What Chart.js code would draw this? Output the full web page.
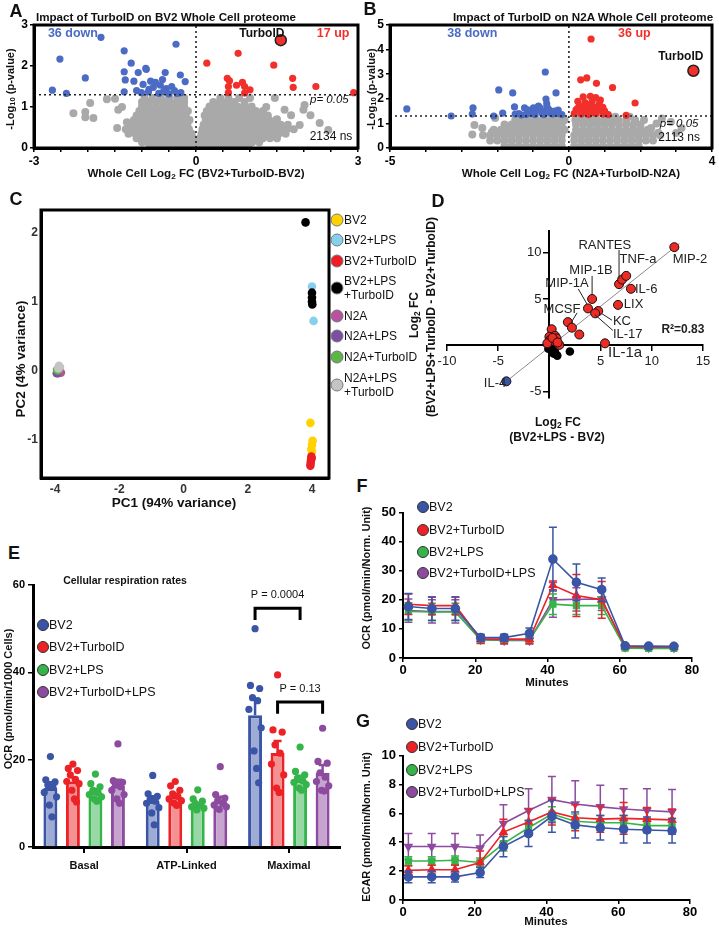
<!DOCTYPE html>
<html>
<head>
<meta charset="utf-8">
<script src="https://cdn.jsdelivr.net/npm/chart.js@4.4.1/dist/chart.umd.min.js"></script>
<style>
html,body{margin:0;padding:0;background:#fff;}
#root{position:relative;width:719px;height:928px;overflow:hidden;background:#fff;font-family:'Liberation Sans',Arial,Helvetica,sans-serif;color:#111;}
#root canvas{position:absolute;}
.tx{position:absolute;white-space:nowrap;transform:translate(-50%,-50%);line-height:1.15;z-index:5;}
.tl{position:absolute;white-space:nowrap;transform:translate(0,-50%);line-height:1.15;z-index:5;}
sub{font-size:0.7em;vertical-align:-0.2em;line-height:0;}
.dot{position:absolute;border-radius:50%;transform:translate(-50%,-50%);box-sizing:border-box;z-index:5;}
</style>
</head>
<body>
<div id="root"></div>
<script>
// ---------------- DATA ----------------
// Panel A volcano (BV2): [log2FC, -log10 p]
const volcA_down = [[-1.76,2.7],[-2.52,2.17],[-2.05,1.71],[-2.66,1.41],[-2.4,1.33],[-1.33,2.37],[-1.2,2.07],[-0.37,2.53],[-1.33,1.86],[-1.07,1.84],[-0.93,1.94],[-1.31,1.66],[-1.15,1.63],[-0.84,1.63],[-0.57,1.84],[-0.29,1.78],[-0.2,1.62],[-0.66,1.53],[-0.45,1.5],[-0.87,1.43],[-0.79,1.48],[-0.62,1.67],[-1.33,1.37],[-1.01,1.35],[-0.88,1.37],[-0.28,1.35],[-0.69,1.33],[-0.4,1.4],[-0.5,1.32],[-0.92,1.92],[-0.75,1.6],[-0.55,1.45],[-1.1,1.4],[-0.35,1.33],[-0.6,1.38],[-0.98,1.55]];
const volcA_up = [[0.2,2.07],[0.78,2.31],[1.44,2.02],[0.58,1.7],[0.62,1.64],[0.75,1.53],[0.86,1.6],[0.9,1.5],[1.79,1.7],[1.8,1.48],[2.22,1.5],[2.92,1.35],[0.6,1.35],[0.9,1.34],[0.6,1.5],[1.0,1.42]];
const volcA_turbo = [1.57,2.63];
const greyARows = [
 [0.04,[-0.85,-0.72,-0.59,-0.46,-0.33,-0.2,-0.07,0.06,0.19,0.32,0.45,0.58,0.71,0.84,0.97]],
 [0.14,[-1.0,-0.9,-0.78,-0.65,-0.52,-0.39,-0.26,-0.13,0.0,0.13,0.26,0.39,0.52,0.65,0.78,0.91,1.04,1.17]],
 [0.24,[-1.1,-0.97,-0.84,-0.71,-0.58,-0.45,-0.32,-0.19,-0.06,0.07,0.2,0.33,0.46,0.59,0.72,0.85,0.98,1.11,1.24,1.37,1.5]],
 [0.35,[-1.25,-1.12,-0.99,-0.86,-0.73,-0.6,-0.47,-0.34,-0.21,-0.08,0.1,0.23,0.36,0.49,0.62,0.75,0.88,1.01,1.14,1.27,1.4,1.53,1.66]],
 [0.46,[-1.3,-1.17,-1.04,-0.91,-0.78,-0.65,-0.52,-0.39,-0.26,-0.13,0.12,0.25,0.38,0.51,0.64,0.77,0.9,1.03,1.16,1.29,1.42,1.55,1.68,1.81]],
 [0.57,[-1.2,-1.07,-0.94,-0.81,-0.68,-0.55,-0.42,-0.29,-0.16,0.14,0.27,0.4,0.53,0.66,0.79,0.92,1.05,1.18,1.31,1.44,1.57,1.7]],
 [0.68,[-1.15,-1.02,-0.89,-0.76,-0.63,-0.5,-0.37,-0.24,-0.12,0.18,0.31,0.44,0.57,0.7,0.83,0.96,1.09,1.22,1.35,1.48]],
 [0.79,[-1.1,-0.97,-0.84,-0.71,-0.58,-0.45,-0.32,-0.19,0.16,0.29,0.42,0.55,0.68,0.81,0.94,1.07,1.2,1.33]],
 [0.9,[-1.05,-0.92,-0.79,-0.66,-0.53,-0.4,-0.27,-0.15,0.2,0.33,0.46,0.59,0.72,0.85,0.98,1.11,1.24]],
 [1.01,[-1.0,-0.87,-0.74,-0.61,-0.48,-0.35,-0.22,0.25,0.38,0.51,0.64,0.77,0.9,1.03]],
 [1.12,[-1.0,-0.87,-0.74,-0.61,-0.48,-0.35,-0.22,0.32,0.45,0.58,0.71,0.9]],
 [1.22,[-0.95,-0.8,-0.65,-0.5,-0.35,-0.22,0.45,0.6,0.8,1.0]]
];
const greyAOut = [[-2.27,0.85],[-2.05,0.88],[-2.05,0.75],[-1.9,0.73],[-1.65,1.19],[-1.46,0.49],[-1.44,0.93],[-1.96,1.1],[-1.37,1.0],[-1.28,0.63],[-1.5,1.2],[1.99,0.93],[2.12,0.8],[2.29,0.61],[2.45,0.44],[1.92,0.56],[1.76,0.8],[1.64,0.93],[1.46,1.22],[2.01,1.05],[1.3,1.0],[1.5,0.7]];
const volcATicksX = [-3,-2.5,-2,-1.5,-1,-0.5,0,0.5,1,1.5,2,2.5,3];
const volcATickLabelsX = [-3,0,3];
const volcATicksY = [0,1,2,3];

// Panel B volcano (N2A)
const volcB_down = [[-4.53,1.59],[-3.29,1.3],[-2.68,1.63],[-2.7,1.38],[-1.96,2.36],[-1.57,2.24],[-1.52,1.67],[-2.1,1.3],[-1.85,1.42],[-1.24,1.63],[-0.66,3.09],[-0.36,2.24],[-0.64,1.99],[-0.3,1.54],[-0.61,1.67],[-0.99,1.63],[-0.86,1.54],[-1.33,1.34],[-0.72,1.46],[-1.13,1.42],[-0.52,1.42],[-1.4,1.4],[-1.05,1.45],[-0.8,1.62],[-0.45,1.38],[-0.2,1.36],[-0.95,1.36],[-0.7,1.36],[-0.55,1.55],[-1.2,1.36],[-0.85,1.7],[-0.62,1.8],[-1.0,1.5],[-0.4,1.5],[-0.75,1.42],[-1.5,1.38],[-0.28,1.4],[-1.15,1.55]];
const volcB_up = [[0.62,4.43],[0.33,2.77],[0.5,2.85],[0.77,2.63],[1.22,2.46],[1.85,1.83],[0.88,1.95],[0.4,2.08],[0.6,2.1],[0.75,2.05],[0.25,1.9],[0.45,1.85],[0.65,1.88],[0.85,1.8],[0.3,1.7],[0.5,1.68],[0.7,1.65],[0.95,1.65],[0.2,1.55],[0.4,1.5],[0.6,1.5],[0.8,1.52],[1.0,1.5],[0.15,1.4],[0.35,1.38],[0.55,1.36],[0.75,1.4],[0.95,1.38],[1.1,1.36],[0.25,1.62],[0.55,1.75],[0.45,1.6],[0.85,1.6],[0.65,1.45],[1.6,1.33]];
const volcB_turbo = [3.48,3.14];
const greyBRows = [
 [0.08,[-1.8,-1.6,-1.4,-1.2,-1.0,-0.8,-0.6,-0.4,-0.2,0.15,0.35,0.55,0.75,0.95,1.15,1.35,1.55,1.75,1.95]],
 [0.3,[-2.2,-2.0,-1.8,-1.6,-1.4,-1.2,-1.0,-0.8,-0.6,-0.4,-0.2,0.15,0.35,0.55,0.75,0.95,1.15,1.35,1.55,1.75,1.95,2.15,2.35]],
 [0.52,[-2.4,-2.2,-2.0,-1.8,-1.6,-1.4,-1.2,-1.0,-0.8,-0.6,-0.4,-0.2,0.15,0.35,0.55,0.75,0.95,1.15,1.35,1.55,1.75,1.95,2.15,2.35,2.55]],
 [0.74,[-2.1,-1.9,-1.7,-1.5,-1.3,-1.1,-0.9,-0.7,-0.5,-0.3,-0.12,0.2,0.4,0.6,0.8,1.0,1.2,1.4,1.6,1.8,2.0,2.2]],
 [0.96,[-1.8,-1.6,-1.4,-1.2,-1.0,-0.8,-0.6,-0.4,-0.2,0.2,0.4,0.6,0.8,1.0,1.2,1.4,1.6,1.8,2.0]],
 [1.14,[-1.5,-1.3,-1.1,-0.9,-0.7,-0.5,-0.3,-0.12,0.18,0.38,0.58,0.78,0.98,1.18,1.38,1.6,1.85,2.1]],
 [1.27,[-1.2,-0.95,-0.7,-0.45,-0.2,0.25,0.5,0.75,1.0,1.3,1.7]]
];
const greyBOut = [[-2.64,0.93],[-2.06,1.22],[-2.42,0.81],[-2.15,0.65],[-2.7,0.55],[2.3,0.81],[2.5,0.62],[3.0,0.61],[3.15,0.81],[2.85,1.06],[2.6,1.2],[2.45,1.0]];
const volcBTicksX = [-5,-4,-3,-2,-1,0,1,2,3,4];
const volcBTickLabelsX = [-5,0,4];
const volcBTicksY = [0,1,2,3,4,5];

// Panel C PCA
const pcaGroups = ['BV2','BV2+LPS','BV2+TurboID','BV2+LPS+TurboID','N2A','N2A+LPS','N2A+TurboID','N2A+LPS+TurboID'];
const pcaBV2 = [[3.95,-0.76],[4.02,-1.02],[4.0,-1.08],[3.98,-1.14],[4.0,-1.18]];
const pcaBV2LPS = [[4.0,1.22],[4.05,0.72]];
const pcaBV2Turbo = [[3.98,-1.25],[3.97,-1.3],[3.96,-1.34],[3.95,-1.38],[3.99,-1.27]];
const pcaBV2LPSTurbo = [[3.8,2.15],[4.0,1.13],[4.0,1.06],[4.0,1.0],[4.01,0.96]];
const pcaN2A = [[-3.82,-0.03],[-3.9,-0.04]];
const pcaN2ALPS = [[-3.95,-0.04],[-3.92,-0.02]];
const pcaN2ATurbo = [[-3.9,0.0],[-3.94,0.01]];
const pcaN2ALPSTurbo = [[-3.85,0.05],[-3.9,0.03],[-3.88,0.07]];
const pcaTicksX = [-4,-2,0,2,4];
const pcaTicksY = [-1,0,1,2];

// Panel D cytokines: [log2FC(BV2+LPS - BV2), log2FC(BV2+LPS+TurboID - BV2+TurboID)]
const cytoRed = [[12.2,10.6],[6.8,6.6],[7.1,7.1],[7.5,7.5],[7.96,6.1],[6.7,4.36],[4.17,5.0],[3.77,3.98],[4.77,3.7],[4.47,3.45],[1.8,2.5],[2.2,1.9],[2.92,1.16],[5.43,0.21],[0.22,1.73],[0.0,0.92],[0.55,1.02],[0.7,0.74],[0.06,0.57],[0.38,0.46],[0.97,0.04],[-0.2,0.21],[0.3,0.8],[0.8,0.3]];
const cytoBlack = [[-0.1,-0.38],[0.22,-0.6],[0.55,-0.74],[0.77,-1.12],[2.0,-0.67],[0.38,-0.24],[0.6,-0.95],[0.4,-0.9]];
const cytoBlue = [[-4.2,-3.9]];
const cytoFit = [[-4.6,-4.25],[12.7,11.0]];
const cytoTicksX = [-10,-5,0,5,10,15];
const cytoTickLabelsX = [-10,-5,5,10,15];
const cytoTicksY = [-5,0,5,10];
const cytoTickLabelsY = [-5,5,10];

// Panel E respiration
const respCats = ['Basal','ATP-Linked','Maximal'];
const respGroups = ['BV2','BV2+TurboID','BV2+LPS','BV2+TurboID+LPS'];
const meanBV2 = [13.5,10.5,30.2];
const meanTurbo = [15,11.5,21.5];
const meanLPS = [12.5,9.5,15.3];
const meanTurboLPS = [14,10.5,17];
const semBV2 = [1.3,1.1,3.5];
const semTurbo = [1.0,0.7,2.8];
const semLPS = [0.8,0.5,1.0];
const semTurboLPS = [1.4,1.0,1.8];
const dotsBV2 = [[20.7,15.4,14.9,14.2,13.7,12.5,11.5,9.6,6.9],[16.4,12.2,11.6,11,10.5,10,9,7.8,5.1],[50,37,36.3,34.2,33.5,31.5,27.3,22,18,14.7]];
const dotsTurbo = [[19,18,17.5,16.5,15.5,15,14.5,13,11,10.3],[15,14,13,12.2,11.6,11,10.6,10,9.5],[39.4,26.8,26.3,23.4,21.5,19,16.5,13.5,12.5]];
const dotsLPS = [[16.7,14.5,13.8,13,12.5,12,11.5,11,10.5],[13.1,11,10.5,10,9.6,9.2,8.9,8.5],[22.9,17.3,16.5,15.8,15.2,14.8,14.3,13.5,13]];
const dotsTurboLPS = [[23.6,15.2,14.8,14.2,13.8,13,12,11,10],[18.4,12,11.2,10.6,10,9.6,9.2,8.6],[27.2,19.6,19.2,17,16,15,14,13,12.8]];
const respTicksY = [0,20,40,60];

// Panels F & G seahorse time course
const minutes = [1.5,8,14.5,21.5,28,35,41.5,48,55,61.5,68,75];
const ocrBV2 = [17.7,17,17,7,7,8.5,34,26,23.5,4.2,4.1,4.0];
const ocrTurbo = [18.5,18,18,6.5,6.5,6.5,25,21.5,20,4.0,3.8,3.8];
const ocrLPS = [16,15.8,15.8,6.3,6.2,6.3,18.5,18,18,3.4,3.3,3.3];
const ocrTurboLPS = [16.3,16,16,6.3,6,6,20,20.2,20.3,3.7,3.6,3.5];
const ocrBV2Err = [4.5,4,4,1.2,1.2,1.8,11,6.3,4,0.5,0.4,0.4];
const ocrTurboErr = [3.5,3,3,1.5,1.5,1.5,1.5,7.2,6.3,0.5,0.4,0.4];
const ocrLPSErr = [3,3,3,0.8,0.8,0.8,3.5,3,3,0.4,0.4,0.4];
const ocrTurboLPSErr = [4,4,4,1.2,1.2,1.2,6,4,4,0.5,0.4,0.4];
const ecarBV2 = [1.6,1.6,1.6,1.9,3.7,4.6,5.8,5.2,5.0,4.9,4.85,4.8];
const ecarTurbo = [2.05,2.1,2.1,2.6,4.7,5.4,6.1,5.7,5.6,5.65,5.6,5.55];
const ecarLPS = [2.7,2.7,2.75,2.6,3.9,5.0,5.95,5.45,5.35,5.35,5.15,5.15];
const ecarTurboLPS = [3.7,3.7,3.7,3.6,5.3,6.2,6.95,6.65,6.45,6.3,6.2,6.1];
const ecarBV2Err = [0.4,0.4,0.35,0.35,0.7,0.9,1.1,0.9,0.85,0.95,0.9,0.85];
const ecarTurboErr = [0.3,0.3,0.3,0.8,0.9,0.9,0.9,0.9,0.9,1.1,0.8,0.75];
const ecarLPSErr = [0.3,0.3,0.3,0.3,0.5,0.5,0.5,0.5,0.5,0.5,0.5,0.5];
const ecarTurboLPSErr = [0.9,0.9,0.9,0.9,1.3,1.5,1.6,1.6,1.5,1.4,1.5,1.55];
const timeTicks = [0,20,40,60,80];
const ocrTicks = [0,10,20,30,40,50];
const ecarTicks = [0,2,4,6,8,10];

// ---------------- STYLE / HELPERS ----------------
const FONT = "'Liberation Sans', Arial, Helvetica, sans-serif";
Chart.defaults.font.family = FONT;
Chart.defaults.color = '#111';
const COL = {blue:'#3a55a6', red:'#ec2227', green:'#35b44a', purple:'#8c4b9f'};
const FILL = {blue:'#9eabd5', red:'#f49193', green:'#98d8a6', purple:'#c7a4d0'};
const VB = '#4b6bc5', VR = '#f2302b', VG = '#a9a9a9';
const pcaColors = ['#ffd200','#86d0ee','#ee1c24','#000000','#b8529f','#7b4fa2','#5cb646','#c4c4c4'];
const root = document.getElementById('root');

function mkCanvas(a, m){
  const c = document.createElement('canvas');
  const W = a.r - a.l + m.l + m.r, H = a.b - a.t + m.t + m.b;
  c.width = W; c.height = H;
  c.style.left = (a.l - m.l) + 'px'; c.style.top = (a.t - m.t) + 'px';
  c.style.width = W + 'px'; c.style.height = H + 'px';
  root.appendChild(c);
  return c;
}
function txt(html, x, y, css, left){
  const d = document.createElement('div');
  d.className = left ? 'tl' : 'tx';
  d.innerHTML = html;
  d.style.left = x + 'px'; d.style.top = y + 'px';
  if (css) d.style.cssText += css;
  root.appendChild(d);
  return d;
}
const ROT = 'transform:translate(-50%,-50%) rotate(-90deg);';
function pts(arr){ return arr.map(([x,y]) => ({x, y})); }
function rows(r, extra){ return r.flatMap(([y, xs]) => xs.map(x => ({x, y}))).concat(pts(extra)); }
function axis(o){
  const isX = o.axis === 'x';
  const labelSet = o.labels || o.ticks;
  return {
    type:'linear', min:o.min, max:o.max, position:o.position || (isX ? 'bottom' : 'left'),
    afterBuildTicks: s => { s.ticks = o.ticks.map(v => ({value:v})); },
    afterFit: s => {
      if (isX) { if (o.size != null) s.height = o.size; s.paddingLeft = 0; s.paddingRight = 0; }
      else { if (o.size != null) s.width = o.size; s.paddingTop = 0; s.paddingBottom = 0; }
    },
    ticks:{display: o.noLabels ? false : true, autoSkip:false, maxRotation:0, padding:(o.pad != null ? o.pad : 2), color:o.color || '#000',
      font:{size:o.fs || 12, weight:o.fw || 'bold'},
      callback: v => labelSet.some(l => Math.abs(l - v) < 1e-9) ? String(v) : ''},
    grid:{display:(o.tickLen || 0) > 0, drawOnChartArea:false, drawTicks:true, tickLength:o.tickLen || 0, color:'#000', lineWidth:o.tickW || 1.5},
    border:{display:true, color:'#000', width:o.bw || 2}
  };
}
function hiddenAxis(isX, min, max, size){
  return {type:'linear', min, max, position: isX ? 'bottom' : 'left',
    afterFit: s => { if (isX) { s.height = size; s.paddingLeft = 0; s.paddingRight = 0; } else { s.width = size; s.paddingTop = 0; s.paddingBottom = 0; } },
    ticks:{display:false}, grid:{display:false}, border:{display:false}};
}
function baseOpts(m, scales, full){
  return {responsive:false, animation:false, events:[],
    layout:{padding: full ? {left:m.l, top:m.t, right:m.r, bottom:m.b} : {left:0, top:m.t, right:m.r, bottom:0}},
    plugins:{legend:{display:false}, tooltip:{enabled:false}, title:{display:false}},
    scales};
}
function sc(data, color, r, extra){
  return Object.assign({type:'scatter', data:data, backgroundColor:color, borderColor:color, borderWidth:0,
    pointRadius:r, pointHoverRadius:r}, extra || {});
}
const framePlugin = {id:'frame', afterDatasetsDraw(chart){
  const {ctx, chartArea:a} = chart; ctx.save(); ctx.lineWidth = 3; ctx.strokeStyle = '#000';
  ctx.strokeRect(a.left, a.top, a.right - a.left, a.bottom - a.top); ctx.restore(); }};
function annot(id, fn){
  return {id, afterDatasetsDraw(chart){
    const ctx = chart.ctx; const X = v => chart.scales.x.getPixelForValue(v); const Y = v => chart.scales.y.getPixelForValue(v);
    ctx.save(); fn(ctx, X, Y, chart); ctx.restore(); }};
}
function drawErr(chart, i){
  const ds = chart.data.datasets[i]; const meta = chart.getDatasetMeta(i);
  const ys = chart.scales[meta.yAxisID]; const ctx = chart.ctx;
  ctx.save(); ctx.strokeStyle = ds.errColor || ds.borderColor; ctx.lineWidth = ds.errWidth || 1.5;
  const cap = ds.errCap || 4;
  meta.data.forEach((el, k) => {
    const raw = ds.data[k]; const v = (typeof raw === 'object') ? raw.y : raw; const e = ds.errors[k];
    const x = el.x; const yT = ys.getPixelForValue(v + e); const yB = ds.errUp ? ys.getPixelForValue(v) : ys.getPixelForValue(v - e);
    ctx.beginPath(); ctx.moveTo(x, yB); ctx.lineTo(x, yT); ctx.moveTo(x - cap, yT); ctx.lineTo(x + cap, yT);
    if (!ds.errUp) { ctx.moveTo(x - cap, yB); ctx.lineTo(x + cap, yB); }
    ctx.stroke();
  });
  ctx.restore();
}
Chart.register({id:'errbars',
  beforeDatasetDraw(chart, args){ const ds = chart.data.datasets[args.index]; if (ds.errors && !ds.errAfter) drawErr(chart, args.index); },
  afterDatasetDraw(chart, args){ const ds = chart.data.datasets[args.index]; if (ds.errors && ds.errAfter) drawErr(chart, args.index); }
});
function volcText(ctx, X, Y, items){
  items.forEach(([t, x, y, font, color, align]) => {
    ctx.font = font + ' ' + FONT; ctx.fillStyle = color; ctx.textAlign = align || 'center'; ctx.textBaseline = 'middle';
    ctx.fillText(t, X(x), Y(y));
  });
}
function pLines(ctx, X, Y, x0, x1, y1, thr){
  ctx.setLineDash([2,3]); ctx.lineWidth = 1.6; ctx.strokeStyle = '#222';
  ctx.beginPath(); ctx.moveTo(X(x0), Y(thr)); ctx.lineTo(X(x1), Y(thr));
  ctx.moveTo(X(0), Y(0)); ctx.lineTo(X(0), Y(y1)); ctx.stroke(); ctx.setLineDash([]);
}
const pThresh = 1.3;

// ---------------- PANEL A ----------------
(function(){
  const a = {l:34,t:25,r:358,b:148}, m = {l:34,t:8,r:10,b:22};
  new Chart(mkCanvas(a, m), {type:'scatter',
    data:{datasets:[
      sc(rows(greyARows, greyAOut), VG, 4, {order:3}),
      sc(pts(volcA_down), VB, 3.6, {order:2}),
      sc(pts(volcA_up), VR, 3.6, {order:2}),
      sc(pts([volcA_turbo]), VR, 5.5, {order:1, borderColor:'#222', borderWidth:1.5})
    ]},
    options: baseOpts(m, {
      x: axis({axis:'x', min:-3, max:3, ticks:volcATicksX, labels:volcATickLabelsX, size:m.b, tickLen:4, bw:3}),
      y: axis({axis:'y', min:0, max:3, ticks:volcATicksY, size:m.l, tickLen:4, bw:3})
    }),
    plugins:[annot('annA', (ctx, X, Y) => {
      pLines(ctx, X, Y, -3, 3, 3, pThresh);
      volcText(ctx, X, Y, [
        ['36 down', -2.28, 2.8, 'bold 12.5px', VB],
        ['17 up', 2.54, 2.8, 'bold 12.5px', VR],
        ['TurboID', 1.22, 2.8, 'bold 12px', '#111'],
        ['p= 0.05', 2.47, 1.17, 'italic 11.5px', '#111'],
        ['2134 ns', 2.5, 0.27, '12px', '#111']
      ]);
    }), framePlugin]
  });
})();

// ---------------- PANEL B ----------------
(function(){
  const a = {l:390,t:25,r:713,b:148}, m = {l:22,t:8,r:6,b:22};
  new Chart(mkCanvas(a, m), {type:'scatter',
    data:{datasets:[
      sc(rows(greyBRows, greyBOut), VG, 4, {order:3}),
      sc(pts(volcB_down), VB, 3.6, {order:2}),
      sc(pts(volcB_up), VR, 3.6, {order:2}),
      sc(pts([volcB_turbo]), VR, 5.5, {order:1, borderColor:'#222', borderWidth:1.5})
    ]},
    options: baseOpts(m, {
      x: axis({axis:'x', min:-5, max:4, ticks:volcBTicksX, labels:volcBTickLabelsX, size:m.b, tickLen:4, bw:3}),
      y: axis({axis:'y', min:0, max:5, ticks:volcBTicksY, size:m.l, tickLen:4, bw:3})
    }),
    plugins:[annot('annB', (ctx, X, Y) => {
      pLines(ctx, X, Y, -5, 4, 5, pThresh);
      volcText(ctx, X, Y, [
        ['38 down', -2.7, 4.67, 'bold 12.5px', VB],
        ['36 up', 1.83, 4.67, 'bold 12.5px', VR],
        ['TurboID', 3.13, 3.72, 'bold 12px', '#111'],
        ['p= 0.05', 3.08, 1.0, 'italic 11.5px', '#111'],
        ['2113 ns', 3.08, 0.42, '12px', '#111']
      ]);
    }), framePlugin]
  });
})();

// ---------------- PANEL C ----------------
(function(){
  const a = {l:41,t:210,r:329,b:478}, m = {l:41,t:5,r:5,b:22};
  const sets = [pcaBV2, pcaBV2LPS, pcaBV2Turbo, pcaBV2LPSTurbo, pcaN2A, pcaN2ALPS, pcaN2ATurbo, pcaN2ALPSTurbo];
  const order = [7,6,5,4,3,2,1,0];
  new Chart(mkCanvas(a, m), {type:'scatter',
    data:{datasets: sets.map((s, i) => sc(pts(s), pcaColors[i], 4.3, {label:pcaGroups[i], order:order[i]}))},
    options: baseOpts(m, {
      x: axis({axis:'x', min:-4.44, max:4.53, ticks:pcaTicksX, size:m.b, tickLen:0, bw:3, color:'#333', pad:4}),
      y: axis({axis:'y', min:-1.56, max:2.33, ticks:pcaTicksY, size:m.l, tickLen:0, bw:3, color:'#333', pad:3})
    }),
    plugins:[framePlugin]
  });
})();

// ---------------- PANEL D ----------------
(function(){
  const a = {l:447,t:230,r:703,b:398}, m = {l:40,t:5,r:16,b:25};
  const xa = axis({axis:'x', min:-10, max:15, ticks:cytoTicksX, labels:cytoTickLabelsX, tickLen:5, bw:2, fw:'normal', fs:13, color:'#222', pad:3});
  xa.position = {y:0};
  const ya = axis({axis:'y', min:-5.7, max:12.4, ticks:cytoTicksY, labels:cytoTickLabelsY, tickLen:5, bw:2, noLabels:true});
  ya.position = {x:0};
  new Chart(mkCanvas(a, m), {type:'scatter',
    data:{datasets:[
      {type:'line', data:pts(cytoFit), borderColor:'#8a8a8a', borderWidth:1, pointRadius:0, order:4},
      sc(pts(cytoBlack), '#000', 4.3, {order:3}),
      sc(pts(cytoRed), '#ee2a24', 4.5, {order:2, borderColor:'#111', borderWidth:1}),
      sc(pts(cytoBlue), '#3a55a6', 4.5, {order:1, borderColor:'#111', borderWidth:1})
    ]},
    options: baseOpts(m, {x:xa, y:ya}, true),
    plugins:[annot('annD', (ctx, X, Y) => {
      // y tick labels beside the centred axis
      ctx.font = '13px ' + FONT; ctx.fillStyle = '#222'; ctx.textAlign = 'right'; ctx.textBaseline = 'middle';
      cytoTickLabelsY.forEach(v => ctx.fillText(String(v), X(0) - 8, Y(v)));
      ctx.strokeStyle = '#222'; ctx.lineWidth = 1;
      [[6.8,10.3,6.8,7.2],[4.17,7.5,4.17,5.5],[2.82,6.09,3.7,4.4],[2.7,3.5,2.1,2.4],[5.14,3.4,6.11,2.71],[4.45,3.3,6.2,1.6]]
        .forEach(([x0,y0,x1,y1]) => { ctx.beginPath(); ctx.moveTo(X(x0), Y(y0)); ctx.lineTo(X(x1), Y(y1)); ctx.stroke(); });
      volcText(ctx, X, Y, [
        ['RANTES', 5.41, 10.74, '13px', '#222'],
        ['TNF-a', 8.65, 9.26, '13px', '#222'],
        ['MIP-2', 13.73, 9.26, '13px', '#222'],
        ['IL-6', 8.36, 6.07, '13px', '#222', 'left'],
        ['LIX', 7.27, 4.4, '13px', '#222', 'left'],
        ['MIP-1B', 4.06, 8.1, '13px', '#222'],
        ['MIP-1A', 1.72, 6.73, '13px', '#222'],
        ['MCSF', 1.23, 3.88, '13px', '#222'],
        ['KC', 6.2, 2.6, '13px', '#222', 'left'],
        ['IL-17', 6.2, 1.13, '13px', '#222', 'left'],
        ['IL-1a', 5.72, -0.77, '15px', '#222', 'left'],
        ['IL-4', -5.31, -4.15, '13px', '#222'],
        ['R²=0.83', 13.04, 1.66, 'bold 12px', '#222']
      ]);
    })]
  });
})();

// ---------------- PANEL E ----------------
(function(){
  const a = {l:33,t:585,r:340,b:847}, m = {l:33,t:5,r:12,b:30};
  const means = [meanBV2, meanTurbo, meanLPS, meanTurboLPS];
  const sems = [semBV2, semTurbo, semLPS, semTurboLPS];
  const dots = [dotsBV2, dotsTurbo, dotsLPS, dotsTurboLPS];
  const keys = ['blue','red','green','purple'];
  const catPct = 0.88, barPct = 0.62, slot = catPct / 4;
  const jit = [0,-0.045,0.045,-0.025,0.025,-0.06,0.06,-0.01,0.015,0.035];
  const bars = means.map((mv, j) => ({label:respGroups[j], data:mv,
    backgroundColor:FILL[keys[j]], borderColor:COL[keys[j]], borderWidth:3, borderSkipped:'bottom',
    categoryPercentage:catPct, barPercentage:barPct,
    errors:sems[j], errUp:true, errAfter:true, errWidth:2.5, errCap:4}));
  new Chart(mkCanvas(a, m), {type:'bar',
    data:{labels:respCats, datasets: bars},
    options: baseOpts(m, {
      x:{type:'category', offset:true, afterFit: s => { s.height = m.b; s.paddingLeft = 0; s.paddingRight = 0; },
        grid:{display:true, offset:false, drawOnChartArea:false, tickLength:6, color:'#000', lineWidth:2},
        border:{display:true, color:'#000', width:3},
        ticks:{font:{size:11, weight:'bold'}, color:'#111', padding:6, maxRotation:0}},
      y: axis({axis:'y', min:0, max:60, ticks:respTicksY, size:m.l, tickLen:5, bw:3, fs:11, pad:3})
    }),
    plugins:[annot('annE', (ctx, X, Y, chart) => {
      const bx = j => chart.getDatasetMeta(j).data[2].x;
      ctx.strokeStyle = '#000'; ctx.lineWidth = 3; ctx.lineJoin = 'miter';
      const br = (j0, j1, top, leg, label, ty) => {
        ctx.beginPath(); ctx.moveTo(bx(j0), Y(leg)); ctx.lineTo(bx(j0), Y(top)); ctx.lineTo(bx(j1), Y(top)); ctx.lineTo(bx(j1), Y(leg)); ctx.stroke();
        ctx.font = '11px ' + FONT; ctx.fillStyle = '#111'; ctx.textAlign = 'center'; ctx.textBaseline = 'middle';
        ctx.fillText(label, (bx(j0) + bx(j1)) / 2, Y(ty));
      };
      br(0, 2, 54.7, 52, 'P = 0.0004', 57.8);
      br(1, 3, 33.2, 30.5, 'P = 0.13', 36.1);
    })]
  });
  // individual replicate dots, overlaid with identical plot geometry (category i at x = i)
  const scat = dots.map((dv, j) => ({label:respGroups[j],
    data: dv.flatMap((vals, i) => vals.map((v, k) => ({x: i - catPct/2 + slot*(j + 0.5) + jit[k % jit.length], y: v}))),
    backgroundColor:COL[keys[j]], borderColor:COL[keys[j]], borderWidth:0, pointRadius:3.6}));
  new Chart(mkCanvas(a, m), {type:'scatter', data:{datasets: scat},
    options: baseOpts(m, {x: hiddenAxis(true, -0.5, 2.5, m.b), y: hiddenAxis(false, 0, 60, m.l)})});
})();

// ---------------- PANELS F & G ----------------
function timeChart(a, m, series, errs, yMax, yTicks){
  const keys = ['blue','red','green','purple'];
  const styles = [{pointStyle:'circle'},{pointStyle:'triangle'},{pointStyle:'rect'},{pointStyle:'triangle', pointRotation:180}];
  new Chart(mkCanvas(a, m), {type:'line',
    data:{datasets: series.map((s, j) => Object.assign({label:respGroups[j],
      data: minutes.map((t, i) => ({x:t, y:s[i]})), errors:errs[j],
      borderColor:COL[keys[j]], backgroundColor:COL[keys[j]], pointBackgroundColor:COL[keys[j]], pointBorderColor:COL[keys[j]],
      borderWidth:1.6, pointRadius:4, tension:0, fill:false, errWidth:1.5, errCap:4}, styles[j]))},
    options: baseOpts(m, {
      x: axis({axis:'x', min:0, max:80, ticks:timeTicks, size:m.b, tickLen:4, bw:2, fs:13, pad:1}),
      y: axis({axis:'y', min:0, max:yMax, ticks:yTicks, size:m.l, tickLen:4, bw:2, fs:13, pad:3})
    })
  });
}
timeChart({l:403,t:512,r:692,b:658}, {l:33,t:5,r:14,b:22},
  [ocrBV2, ocrTurbo, ocrLPS, ocrTurboLPS], [ocrBV2Err, ocrTurboErr, ocrLPSErr, ocrTurboLPSErr], 50, ocrTicks);
timeChart({l:403,t:755,r:690,b:900}, {l:33,t:5,r:16,b:22},
  [ecarBV2, ecarTurbo, ecarLPS, ecarTurboLPS], [ecarBV2Err, ecarTurboErr, ecarLPSErr, ecarTurboLPSErr], 10, ecarTicks);

// ---------------- TEXT ----------------
const L = 'font-size:18px;font-weight:bold;';
const B11 = 'font-size:11px;font-weight:bold;';
const B115 = 'font-size:11.6px;font-weight:bold;';
txt('A', 16, 11, L); txt('B', 370, 9, L); txt('C', 16, 199, L); txt('D', 438, 201, L);
txt('E', 14, 553, L); txt('F', 362, 486, L); txt('G', 363, 721, L);
txt('Impact of TurboID on BV2 Whole Cell proteome', 166, 17, B115);
txt('Impact of TurboID on N2A Whole Cell proteome', 583, 17, B115);
txt('-Log<sub>10</sub> (p-value)', 10, 89, B11 + ROT);
txt('-Log<sub>10</sub> (p-value)', 371, 89, B11 + ROT);
txt('Whole Cell Log<sub>2</sub> FC (BV2+TurboID-BV2)', 196, 173, B115);
txt('Whole Cell Log<sub>2</sub> FC (N2A+TurboID-N2A)', 571, 173, B115);
txt('PC2 (4% variance)', 21, 359, 'font-size:13.5px;font-weight:bold;' + ROT);
txt('PC1 (94% variance)', 174, 503, 'font-size:13.5px;font-weight:bold;');
txt('Log<sub>2</sub> FC', 558, 423, 'font-size:12px;font-weight:bold;');
txt('(BV2+LPS - BV2)', 557, 438, 'font-size:12px;font-weight:bold;');
txt('Log<sub>2</sub> FC', 415, 315, 'font-size:12px;font-weight:bold;' + ROT);
txt('(BV2+LPS+TurboID - BV2+TurboID)', 432, 317, 'font-size:12px;font-weight:bold;' + ROT);
txt('Cellular respiration rates', 125, 580, 'font-size:10.5px;font-weight:bold;');
txt('OCR (pmol/min/1000 Cells)', 8, 699, B11 + ROT);
txt('OCR (pmol/min/Norm. Unit)', 366, 578, B11 + ROT);
txt('ECAR (pmol/min/Norm. Unit)', 366, 827, B11 + ROT);
txt('Minutes', 547, 683, 'font-size:11.5px;font-weight:bold;');
txt('Minutes', 546, 922, 'font-size:11.5px;font-weight:bold;');

function dot(x, y, d, color, border){
  const e = document.createElement('div'); e.className = 'dot';
  e.style.cssText += `left:${x}px;top:${y}px;width:${d}px;height:${d}px;background:${color};border:${border};`;
  root.appendChild(e);
}
// C legend
const pcaLegY = [220,240,261,288,316,336,357,385];
pcaGroups.forEach((g, i) => {
  dot(337, pcaLegY[i], 13, pcaColors[i], '1px solid #777');
  const lbl = g.replace('BV2+LPS+TurboID', 'BV2+LPS<br>+TurboID').replace('N2A+LPS+TurboID', 'N2A+LPS<br>+TurboID');
  txt(lbl, 344, pcaLegY[i], 'font-size:12px;line-height:14px;', true);
});
// E, F, G legends
const legKeys = ['blue','red','green','purple'];
function legend(cx, ys, fs){
  respGroups.forEach((g, i) => {
    dot(cx, ys[i], 12, COL[legKeys[i]], '1.5px solid #333');
    txt(g, cx + 6, ys[i], `font-size:${fs}px;`, true);
  });
}
legend(43, [625,647,670,692], 12.5);
legend(423, [507,530,552,573], 12.5);
legend(412, [724,747,770,792], 12.5);
</script>
</body>
</html>
